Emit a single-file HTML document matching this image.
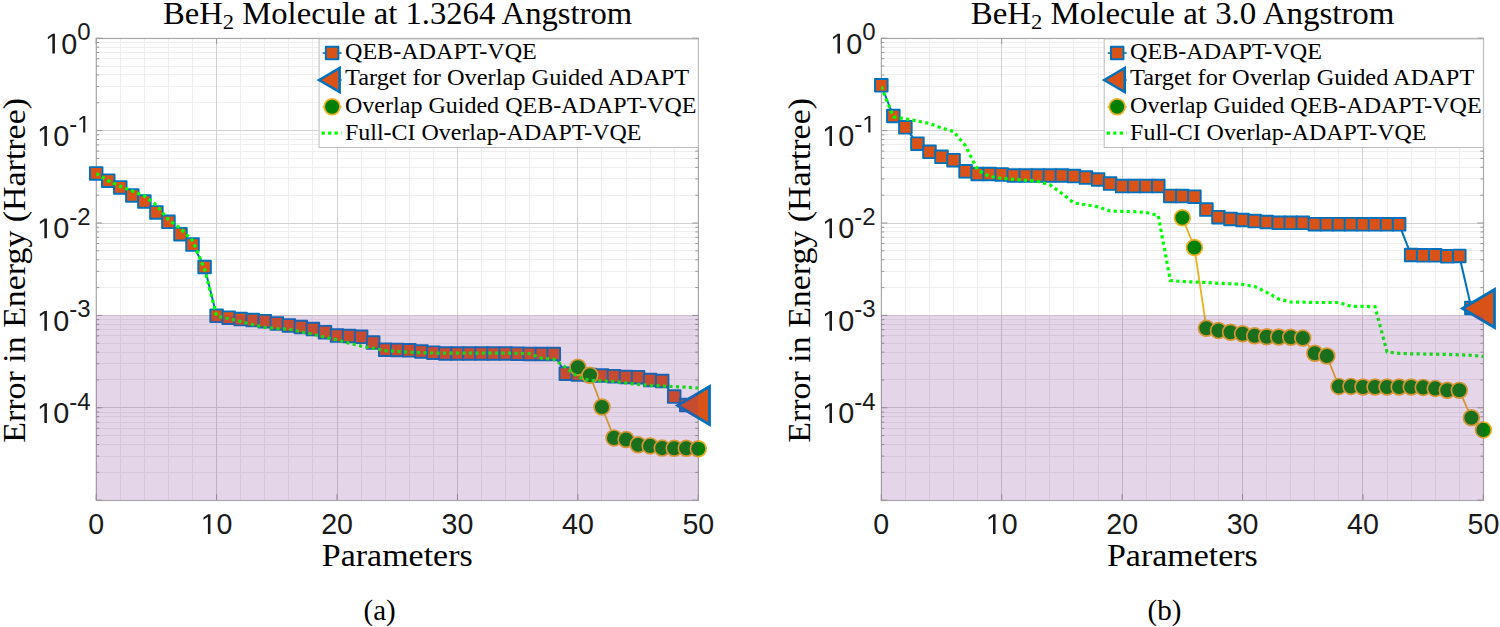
<!DOCTYPE html>
<html><head><meta charset="utf-8"><style>
html,body{margin:0;padding:0;background:#fff;width:1500px;height:627px;overflow:hidden}
svg{display:block}
.sf{font-family:"Liberation Serif",serif;fill:#000}
.tf{font-family:"Liberation Serif",serif;fill:#000}
.ss{font-family:"Liberation Sans",sans-serif;fill:#1a1a1a}
</style></head><body>
<svg width="1500" height="627" viewBox="0 0 1500 627">
<rect width="1500" height="627" fill="#fff"/>
<line x1="120.50" y1="38.2" x2="120.50" y2="500.2" stroke="#eeeeee" stroke-width="1"/>
<line x1="144.50" y1="38.2" x2="144.50" y2="500.2" stroke="#eeeeee" stroke-width="1"/>
<line x1="168.50" y1="38.2" x2="168.50" y2="500.2" stroke="#eeeeee" stroke-width="1"/>
<line x1="192.50" y1="38.2" x2="192.50" y2="500.2" stroke="#eeeeee" stroke-width="1"/>
<line x1="240.50" y1="38.2" x2="240.50" y2="500.2" stroke="#eeeeee" stroke-width="1"/>
<line x1="264.50" y1="38.2" x2="264.50" y2="500.2" stroke="#eeeeee" stroke-width="1"/>
<line x1="288.50" y1="38.2" x2="288.50" y2="500.2" stroke="#eeeeee" stroke-width="1"/>
<line x1="312.50" y1="38.2" x2="312.50" y2="500.2" stroke="#eeeeee" stroke-width="1"/>
<line x1="361.50" y1="38.2" x2="361.50" y2="500.2" stroke="#eeeeee" stroke-width="1"/>
<line x1="385.50" y1="38.2" x2="385.50" y2="500.2" stroke="#eeeeee" stroke-width="1"/>
<line x1="409.50" y1="38.2" x2="409.50" y2="500.2" stroke="#eeeeee" stroke-width="1"/>
<line x1="433.50" y1="38.2" x2="433.50" y2="500.2" stroke="#eeeeee" stroke-width="1"/>
<line x1="481.50" y1="38.2" x2="481.50" y2="500.2" stroke="#eeeeee" stroke-width="1"/>
<line x1="505.50" y1="38.2" x2="505.50" y2="500.2" stroke="#eeeeee" stroke-width="1"/>
<line x1="529.50" y1="38.2" x2="529.50" y2="500.2" stroke="#eeeeee" stroke-width="1"/>
<line x1="553.50" y1="38.2" x2="553.50" y2="500.2" stroke="#eeeeee" stroke-width="1"/>
<line x1="601.50" y1="38.2" x2="601.50" y2="500.2" stroke="#eeeeee" stroke-width="1"/>
<line x1="626.50" y1="38.2" x2="626.50" y2="500.2" stroke="#eeeeee" stroke-width="1"/>
<line x1="650.50" y1="38.2" x2="650.50" y2="500.2" stroke="#eeeeee" stroke-width="1"/>
<line x1="674.50" y1="38.2" x2="674.50" y2="500.2" stroke="#eeeeee" stroke-width="1"/>
<line x1="96.2" y1="102.50" x2="698.3" y2="102.50" stroke="#eeeeee" stroke-width="1"/>
<line x1="96.2" y1="86.50" x2="698.3" y2="86.50" stroke="#eeeeee" stroke-width="1"/>
<line x1="96.2" y1="74.50" x2="698.3" y2="74.50" stroke="#eeeeee" stroke-width="1"/>
<line x1="96.2" y1="66.50" x2="698.3" y2="66.50" stroke="#eeeeee" stroke-width="1"/>
<line x1="96.2" y1="58.50" x2="698.3" y2="58.50" stroke="#eeeeee" stroke-width="1"/>
<line x1="96.2" y1="52.50" x2="698.3" y2="52.50" stroke="#eeeeee" stroke-width="1"/>
<line x1="96.2" y1="47.50" x2="698.3" y2="47.50" stroke="#eeeeee" stroke-width="1"/>
<line x1="96.2" y1="42.50" x2="698.3" y2="42.50" stroke="#eeeeee" stroke-width="1"/>
<line x1="96.2" y1="195.50" x2="698.3" y2="195.50" stroke="#eeeeee" stroke-width="1"/>
<line x1="96.2" y1="178.50" x2="698.3" y2="178.50" stroke="#eeeeee" stroke-width="1"/>
<line x1="96.2" y1="167.50" x2="698.3" y2="167.50" stroke="#eeeeee" stroke-width="1"/>
<line x1="96.2" y1="158.50" x2="698.3" y2="158.50" stroke="#eeeeee" stroke-width="1"/>
<line x1="96.2" y1="151.50" x2="698.3" y2="151.50" stroke="#eeeeee" stroke-width="1"/>
<line x1="96.2" y1="144.50" x2="698.3" y2="144.50" stroke="#eeeeee" stroke-width="1"/>
<line x1="96.2" y1="139.50" x2="698.3" y2="139.50" stroke="#eeeeee" stroke-width="1"/>
<line x1="96.2" y1="134.50" x2="698.3" y2="134.50" stroke="#eeeeee" stroke-width="1"/>
<line x1="96.2" y1="287.50" x2="698.3" y2="287.50" stroke="#eeeeee" stroke-width="1"/>
<line x1="96.2" y1="271.50" x2="698.3" y2="271.50" stroke="#eeeeee" stroke-width="1"/>
<line x1="96.2" y1="259.50" x2="698.3" y2="259.50" stroke="#eeeeee" stroke-width="1"/>
<line x1="96.2" y1="250.50" x2="698.3" y2="250.50" stroke="#eeeeee" stroke-width="1"/>
<line x1="96.2" y1="243.50" x2="698.3" y2="243.50" stroke="#eeeeee" stroke-width="1"/>
<line x1="96.2" y1="237.50" x2="698.3" y2="237.50" stroke="#eeeeee" stroke-width="1"/>
<line x1="96.2" y1="231.50" x2="698.3" y2="231.50" stroke="#eeeeee" stroke-width="1"/>
<line x1="96.2" y1="227.50" x2="698.3" y2="227.50" stroke="#eeeeee" stroke-width="1"/>
<line x1="96.2" y1="379.50" x2="698.3" y2="379.50" stroke="#eeeeee" stroke-width="1"/>
<line x1="96.2" y1="363.50" x2="698.3" y2="363.50" stroke="#eeeeee" stroke-width="1"/>
<line x1="96.2" y1="352.50" x2="698.3" y2="352.50" stroke="#eeeeee" stroke-width="1"/>
<line x1="96.2" y1="343.50" x2="698.3" y2="343.50" stroke="#eeeeee" stroke-width="1"/>
<line x1="96.2" y1="335.50" x2="698.3" y2="335.50" stroke="#eeeeee" stroke-width="1"/>
<line x1="96.2" y1="329.50" x2="698.3" y2="329.50" stroke="#eeeeee" stroke-width="1"/>
<line x1="96.2" y1="324.50" x2="698.3" y2="324.50" stroke="#eeeeee" stroke-width="1"/>
<line x1="96.2" y1="319.50" x2="698.3" y2="319.50" stroke="#eeeeee" stroke-width="1"/>
<line x1="96.2" y1="472.50" x2="698.3" y2="472.50" stroke="#eeeeee" stroke-width="1"/>
<line x1="96.2" y1="456.50" x2="698.3" y2="456.50" stroke="#eeeeee" stroke-width="1"/>
<line x1="96.2" y1="444.50" x2="698.3" y2="444.50" stroke="#eeeeee" stroke-width="1"/>
<line x1="96.2" y1="435.50" x2="698.3" y2="435.50" stroke="#eeeeee" stroke-width="1"/>
<line x1="96.2" y1="428.50" x2="698.3" y2="428.50" stroke="#eeeeee" stroke-width="1"/>
<line x1="96.2" y1="422.50" x2="698.3" y2="422.50" stroke="#eeeeee" stroke-width="1"/>
<line x1="96.2" y1="416.50" x2="698.3" y2="416.50" stroke="#eeeeee" stroke-width="1"/>
<line x1="96.2" y1="412.50" x2="698.3" y2="412.50" stroke="#eeeeee" stroke-width="1"/>
<line x1="216.50" y1="38.2" x2="216.50" y2="500.2" stroke="#d2d2d2" stroke-width="1"/>
<line x1="337.50" y1="38.2" x2="337.50" y2="500.2" stroke="#d2d2d2" stroke-width="1"/>
<line x1="457.50" y1="38.2" x2="457.50" y2="500.2" stroke="#d2d2d2" stroke-width="1"/>
<line x1="577.50" y1="38.2" x2="577.50" y2="500.2" stroke="#d2d2d2" stroke-width="1"/>
<line x1="96.2" y1="130.50" x2="698.3" y2="130.50" stroke="#d2d2d2" stroke-width="1"/>
<line x1="96.2" y1="223.50" x2="698.3" y2="223.50" stroke="#d2d2d2" stroke-width="1"/>
<line x1="96.2" y1="315.50" x2="698.3" y2="315.50" stroke="#d2d2d2" stroke-width="1"/>
<line x1="96.2" y1="407.50" x2="698.3" y2="407.50" stroke="#d2d2d2" stroke-width="1"/>
<clipPath id="c0"><rect x="96.2" y="38.2" width="602.0999999999999" height="462.0"/></clipPath>
<rect x="96.30" y="38.45" width="602.10" height="462.05" fill="none" stroke="#a8a8a8" stroke-width="1.2"/>
<line x1="96.20" y1="500.2" x2="96.20" y2="494.2" stroke="#999" stroke-width="1"/>
<line x1="96.20" y1="38.2" x2="96.20" y2="44.2" stroke="#999" stroke-width="1"/>
<line x1="216.62" y1="500.2" x2="216.62" y2="494.2" stroke="#999" stroke-width="1"/>
<line x1="216.62" y1="38.2" x2="216.62" y2="44.2" stroke="#999" stroke-width="1"/>
<line x1="337.04" y1="500.2" x2="337.04" y2="494.2" stroke="#999" stroke-width="1"/>
<line x1="337.04" y1="38.2" x2="337.04" y2="44.2" stroke="#999" stroke-width="1"/>
<line x1="457.46" y1="500.2" x2="457.46" y2="494.2" stroke="#999" stroke-width="1"/>
<line x1="457.46" y1="38.2" x2="457.46" y2="44.2" stroke="#999" stroke-width="1"/>
<line x1="577.88" y1="500.2" x2="577.88" y2="494.2" stroke="#999" stroke-width="1"/>
<line x1="577.88" y1="38.2" x2="577.88" y2="44.2" stroke="#999" stroke-width="1"/>
<line x1="698.30" y1="500.2" x2="698.30" y2="494.2" stroke="#999" stroke-width="1"/>
<line x1="698.30" y1="38.2" x2="698.30" y2="44.2" stroke="#999" stroke-width="1"/>
<line x1="96.2" y1="38.20" x2="102.2" y2="38.20" stroke="#999" stroke-width="1"/>
<line x1="698.3" y1="38.20" x2="692.3" y2="38.20" stroke="#999" stroke-width="1"/>
<line x1="96.2" y1="102.78" x2="99.2" y2="102.78" stroke="#999" stroke-width="1"/>
<line x1="698.3" y1="102.78" x2="695.3" y2="102.78" stroke="#999" stroke-width="1"/>
<line x1="96.2" y1="86.51" x2="99.2" y2="86.51" stroke="#999" stroke-width="1"/>
<line x1="698.3" y1="86.51" x2="695.3" y2="86.51" stroke="#999" stroke-width="1"/>
<line x1="96.2" y1="74.97" x2="99.2" y2="74.97" stroke="#999" stroke-width="1"/>
<line x1="698.3" y1="74.97" x2="695.3" y2="74.97" stroke="#999" stroke-width="1"/>
<line x1="96.2" y1="66.02" x2="99.2" y2="66.02" stroke="#999" stroke-width="1"/>
<line x1="698.3" y1="66.02" x2="695.3" y2="66.02" stroke="#999" stroke-width="1"/>
<line x1="96.2" y1="58.70" x2="99.2" y2="58.70" stroke="#999" stroke-width="1"/>
<line x1="698.3" y1="58.70" x2="695.3" y2="58.70" stroke="#999" stroke-width="1"/>
<line x1="96.2" y1="52.51" x2="99.2" y2="52.51" stroke="#999" stroke-width="1"/>
<line x1="698.3" y1="52.51" x2="695.3" y2="52.51" stroke="#999" stroke-width="1"/>
<line x1="96.2" y1="47.15" x2="99.2" y2="47.15" stroke="#999" stroke-width="1"/>
<line x1="698.3" y1="47.15" x2="695.3" y2="47.15" stroke="#999" stroke-width="1"/>
<line x1="96.2" y1="42.43" x2="99.2" y2="42.43" stroke="#999" stroke-width="1"/>
<line x1="698.3" y1="42.43" x2="695.3" y2="42.43" stroke="#999" stroke-width="1"/>
<line x1="96.2" y1="130.60" x2="102.2" y2="130.60" stroke="#999" stroke-width="1"/>
<line x1="698.3" y1="130.60" x2="692.3" y2="130.60" stroke="#999" stroke-width="1"/>
<line x1="96.2" y1="195.18" x2="99.2" y2="195.18" stroke="#999" stroke-width="1"/>
<line x1="698.3" y1="195.18" x2="695.3" y2="195.18" stroke="#999" stroke-width="1"/>
<line x1="96.2" y1="178.91" x2="99.2" y2="178.91" stroke="#999" stroke-width="1"/>
<line x1="698.3" y1="178.91" x2="695.3" y2="178.91" stroke="#999" stroke-width="1"/>
<line x1="96.2" y1="167.37" x2="99.2" y2="167.37" stroke="#999" stroke-width="1"/>
<line x1="698.3" y1="167.37" x2="695.3" y2="167.37" stroke="#999" stroke-width="1"/>
<line x1="96.2" y1="158.42" x2="99.2" y2="158.42" stroke="#999" stroke-width="1"/>
<line x1="698.3" y1="158.42" x2="695.3" y2="158.42" stroke="#999" stroke-width="1"/>
<line x1="96.2" y1="151.10" x2="99.2" y2="151.10" stroke="#999" stroke-width="1"/>
<line x1="698.3" y1="151.10" x2="695.3" y2="151.10" stroke="#999" stroke-width="1"/>
<line x1="96.2" y1="144.91" x2="99.2" y2="144.91" stroke="#999" stroke-width="1"/>
<line x1="698.3" y1="144.91" x2="695.3" y2="144.91" stroke="#999" stroke-width="1"/>
<line x1="96.2" y1="139.55" x2="99.2" y2="139.55" stroke="#999" stroke-width="1"/>
<line x1="698.3" y1="139.55" x2="695.3" y2="139.55" stroke="#999" stroke-width="1"/>
<line x1="96.2" y1="134.83" x2="99.2" y2="134.83" stroke="#999" stroke-width="1"/>
<line x1="698.3" y1="134.83" x2="695.3" y2="134.83" stroke="#999" stroke-width="1"/>
<line x1="96.2" y1="223.00" x2="102.2" y2="223.00" stroke="#999" stroke-width="1"/>
<line x1="698.3" y1="223.00" x2="692.3" y2="223.00" stroke="#999" stroke-width="1"/>
<line x1="96.2" y1="287.58" x2="99.2" y2="287.58" stroke="#999" stroke-width="1"/>
<line x1="698.3" y1="287.58" x2="695.3" y2="287.58" stroke="#999" stroke-width="1"/>
<line x1="96.2" y1="271.31" x2="99.2" y2="271.31" stroke="#999" stroke-width="1"/>
<line x1="698.3" y1="271.31" x2="695.3" y2="271.31" stroke="#999" stroke-width="1"/>
<line x1="96.2" y1="259.77" x2="99.2" y2="259.77" stroke="#999" stroke-width="1"/>
<line x1="698.3" y1="259.77" x2="695.3" y2="259.77" stroke="#999" stroke-width="1"/>
<line x1="96.2" y1="250.82" x2="99.2" y2="250.82" stroke="#999" stroke-width="1"/>
<line x1="698.3" y1="250.82" x2="695.3" y2="250.82" stroke="#999" stroke-width="1"/>
<line x1="96.2" y1="243.50" x2="99.2" y2="243.50" stroke="#999" stroke-width="1"/>
<line x1="698.3" y1="243.50" x2="695.3" y2="243.50" stroke="#999" stroke-width="1"/>
<line x1="96.2" y1="237.31" x2="99.2" y2="237.31" stroke="#999" stroke-width="1"/>
<line x1="698.3" y1="237.31" x2="695.3" y2="237.31" stroke="#999" stroke-width="1"/>
<line x1="96.2" y1="231.95" x2="99.2" y2="231.95" stroke="#999" stroke-width="1"/>
<line x1="698.3" y1="231.95" x2="695.3" y2="231.95" stroke="#999" stroke-width="1"/>
<line x1="96.2" y1="227.23" x2="99.2" y2="227.23" stroke="#999" stroke-width="1"/>
<line x1="698.3" y1="227.23" x2="695.3" y2="227.23" stroke="#999" stroke-width="1"/>
<line x1="96.2" y1="315.40" x2="102.2" y2="315.40" stroke="#999" stroke-width="1"/>
<line x1="698.3" y1="315.40" x2="692.3" y2="315.40" stroke="#999" stroke-width="1"/>
<line x1="96.2" y1="379.98" x2="99.2" y2="379.98" stroke="#999" stroke-width="1"/>
<line x1="698.3" y1="379.98" x2="695.3" y2="379.98" stroke="#999" stroke-width="1"/>
<line x1="96.2" y1="363.71" x2="99.2" y2="363.71" stroke="#999" stroke-width="1"/>
<line x1="698.3" y1="363.71" x2="695.3" y2="363.71" stroke="#999" stroke-width="1"/>
<line x1="96.2" y1="352.17" x2="99.2" y2="352.17" stroke="#999" stroke-width="1"/>
<line x1="698.3" y1="352.17" x2="695.3" y2="352.17" stroke="#999" stroke-width="1"/>
<line x1="96.2" y1="343.22" x2="99.2" y2="343.22" stroke="#999" stroke-width="1"/>
<line x1="698.3" y1="343.22" x2="695.3" y2="343.22" stroke="#999" stroke-width="1"/>
<line x1="96.2" y1="335.90" x2="99.2" y2="335.90" stroke="#999" stroke-width="1"/>
<line x1="698.3" y1="335.90" x2="695.3" y2="335.90" stroke="#999" stroke-width="1"/>
<line x1="96.2" y1="329.71" x2="99.2" y2="329.71" stroke="#999" stroke-width="1"/>
<line x1="698.3" y1="329.71" x2="695.3" y2="329.71" stroke="#999" stroke-width="1"/>
<line x1="96.2" y1="324.35" x2="99.2" y2="324.35" stroke="#999" stroke-width="1"/>
<line x1="698.3" y1="324.35" x2="695.3" y2="324.35" stroke="#999" stroke-width="1"/>
<line x1="96.2" y1="319.63" x2="99.2" y2="319.63" stroke="#999" stroke-width="1"/>
<line x1="698.3" y1="319.63" x2="695.3" y2="319.63" stroke="#999" stroke-width="1"/>
<line x1="96.2" y1="407.80" x2="102.2" y2="407.80" stroke="#999" stroke-width="1"/>
<line x1="698.3" y1="407.80" x2="692.3" y2="407.80" stroke="#999" stroke-width="1"/>
<line x1="96.2" y1="472.38" x2="99.2" y2="472.38" stroke="#999" stroke-width="1"/>
<line x1="698.3" y1="472.38" x2="695.3" y2="472.38" stroke="#999" stroke-width="1"/>
<line x1="96.2" y1="456.11" x2="99.2" y2="456.11" stroke="#999" stroke-width="1"/>
<line x1="698.3" y1="456.11" x2="695.3" y2="456.11" stroke="#999" stroke-width="1"/>
<line x1="96.2" y1="444.57" x2="99.2" y2="444.57" stroke="#999" stroke-width="1"/>
<line x1="698.3" y1="444.57" x2="695.3" y2="444.57" stroke="#999" stroke-width="1"/>
<line x1="96.2" y1="435.62" x2="99.2" y2="435.62" stroke="#999" stroke-width="1"/>
<line x1="698.3" y1="435.62" x2="695.3" y2="435.62" stroke="#999" stroke-width="1"/>
<line x1="96.2" y1="428.30" x2="99.2" y2="428.30" stroke="#999" stroke-width="1"/>
<line x1="698.3" y1="428.30" x2="695.3" y2="428.30" stroke="#999" stroke-width="1"/>
<line x1="96.2" y1="422.11" x2="99.2" y2="422.11" stroke="#999" stroke-width="1"/>
<line x1="698.3" y1="422.11" x2="695.3" y2="422.11" stroke="#999" stroke-width="1"/>
<line x1="96.2" y1="416.75" x2="99.2" y2="416.75" stroke="#999" stroke-width="1"/>
<line x1="698.3" y1="416.75" x2="695.3" y2="416.75" stroke="#999" stroke-width="1"/>
<line x1="96.2" y1="412.03" x2="99.2" y2="412.03" stroke="#999" stroke-width="1"/>
<line x1="698.3" y1="412.03" x2="695.3" y2="412.03" stroke="#999" stroke-width="1"/>
<line x1="96.2" y1="500.20" x2="102.2" y2="500.20" stroke="#999" stroke-width="1"/>
<line x1="698.3" y1="500.20" x2="692.3" y2="500.20" stroke="#999" stroke-width="1"/>
<polyline points="96.20,173.40 108.24,180.70 120.28,187.40 132.33,195.50 144.37,201.50 156.41,212.40 168.45,221.80 180.49,234.20 192.54,244.60 204.58,267.00 216.62,315.80 228.66,317.70 240.70,319.10 252.75,320.10 264.79,321.20 276.83,323.40 288.87,325.40 300.91,327.00 312.96,329.10 325.00,332.20 337.04,335.60 349.08,336.00 361.12,336.80 373.17,342.60 385.21,349.70 397.25,349.90 409.29,350.30 421.33,351.50 433.38,352.70 445.42,353.50 457.46,353.50 469.50,353.50 481.54,353.50 493.59,353.50 505.63,353.50 517.67,353.70 529.71,353.90 541.75,354.00 553.80,354.00 565.84,373.70 577.88,374.40 589.92,375.00 601.96,375.60 614.01,376.20 626.05,377.00 638.09,377.20 650.13,380.00 662.17,381.00 674.22,396.60 686.26,405.00" fill="none" stroke="#0072BD" stroke-width="2"/>
<rect x="89.90" y="167.10" width="12.6" height="12.6" fill="#D95319" stroke="#0072BD" stroke-width="1.9" stroke-linejoin="round"/>
<rect x="101.94" y="174.40" width="12.6" height="12.6" fill="#D95319" stroke="#0072BD" stroke-width="1.9" stroke-linejoin="round"/>
<rect x="113.98" y="181.10" width="12.6" height="12.6" fill="#D95319" stroke="#0072BD" stroke-width="1.9" stroke-linejoin="round"/>
<rect x="126.03" y="189.20" width="12.6" height="12.6" fill="#D95319" stroke="#0072BD" stroke-width="1.9" stroke-linejoin="round"/>
<rect x="138.07" y="195.20" width="12.6" height="12.6" fill="#D95319" stroke="#0072BD" stroke-width="1.9" stroke-linejoin="round"/>
<rect x="150.11" y="206.10" width="12.6" height="12.6" fill="#D95319" stroke="#0072BD" stroke-width="1.9" stroke-linejoin="round"/>
<rect x="162.15" y="215.50" width="12.6" height="12.6" fill="#D95319" stroke="#0072BD" stroke-width="1.9" stroke-linejoin="round"/>
<rect x="174.19" y="227.90" width="12.6" height="12.6" fill="#D95319" stroke="#0072BD" stroke-width="1.9" stroke-linejoin="round"/>
<rect x="186.24" y="238.30" width="12.6" height="12.6" fill="#D95319" stroke="#0072BD" stroke-width="1.9" stroke-linejoin="round"/>
<rect x="198.28" y="260.70" width="12.6" height="12.6" fill="#D95319" stroke="#0072BD" stroke-width="1.9" stroke-linejoin="round"/>
<rect x="210.32" y="309.50" width="12.6" height="12.6" fill="#D95319" stroke="#0072BD" stroke-width="1.9" stroke-linejoin="round"/>
<rect x="222.36" y="311.40" width="12.6" height="12.6" fill="#D95319" stroke="#0072BD" stroke-width="1.9" stroke-linejoin="round"/>
<rect x="234.40" y="312.80" width="12.6" height="12.6" fill="#D95319" stroke="#0072BD" stroke-width="1.9" stroke-linejoin="round"/>
<rect x="246.45" y="313.80" width="12.6" height="12.6" fill="#D95319" stroke="#0072BD" stroke-width="1.9" stroke-linejoin="round"/>
<rect x="258.49" y="314.90" width="12.6" height="12.6" fill="#D95319" stroke="#0072BD" stroke-width="1.9" stroke-linejoin="round"/>
<rect x="270.53" y="317.10" width="12.6" height="12.6" fill="#D95319" stroke="#0072BD" stroke-width="1.9" stroke-linejoin="round"/>
<rect x="282.57" y="319.10" width="12.6" height="12.6" fill="#D95319" stroke="#0072BD" stroke-width="1.9" stroke-linejoin="round"/>
<rect x="294.61" y="320.70" width="12.6" height="12.6" fill="#D95319" stroke="#0072BD" stroke-width="1.9" stroke-linejoin="round"/>
<rect x="306.66" y="322.80" width="12.6" height="12.6" fill="#D95319" stroke="#0072BD" stroke-width="1.9" stroke-linejoin="round"/>
<rect x="318.70" y="325.90" width="12.6" height="12.6" fill="#D95319" stroke="#0072BD" stroke-width="1.9" stroke-linejoin="round"/>
<rect x="330.74" y="329.30" width="12.6" height="12.6" fill="#D95319" stroke="#0072BD" stroke-width="1.9" stroke-linejoin="round"/>
<rect x="342.78" y="329.70" width="12.6" height="12.6" fill="#D95319" stroke="#0072BD" stroke-width="1.9" stroke-linejoin="round"/>
<rect x="354.82" y="330.50" width="12.6" height="12.6" fill="#D95319" stroke="#0072BD" stroke-width="1.9" stroke-linejoin="round"/>
<rect x="366.87" y="336.30" width="12.6" height="12.6" fill="#D95319" stroke="#0072BD" stroke-width="1.9" stroke-linejoin="round"/>
<rect x="378.91" y="343.40" width="12.6" height="12.6" fill="#D95319" stroke="#0072BD" stroke-width="1.9" stroke-linejoin="round"/>
<rect x="390.95" y="343.60" width="12.6" height="12.6" fill="#D95319" stroke="#0072BD" stroke-width="1.9" stroke-linejoin="round"/>
<rect x="402.99" y="344.00" width="12.6" height="12.6" fill="#D95319" stroke="#0072BD" stroke-width="1.9" stroke-linejoin="round"/>
<rect x="415.03" y="345.20" width="12.6" height="12.6" fill="#D95319" stroke="#0072BD" stroke-width="1.9" stroke-linejoin="round"/>
<rect x="427.08" y="346.40" width="12.6" height="12.6" fill="#D95319" stroke="#0072BD" stroke-width="1.9" stroke-linejoin="round"/>
<rect x="439.12" y="347.20" width="12.6" height="12.6" fill="#D95319" stroke="#0072BD" stroke-width="1.9" stroke-linejoin="round"/>
<rect x="451.16" y="347.20" width="12.6" height="12.6" fill="#D95319" stroke="#0072BD" stroke-width="1.9" stroke-linejoin="round"/>
<rect x="463.20" y="347.20" width="12.6" height="12.6" fill="#D95319" stroke="#0072BD" stroke-width="1.9" stroke-linejoin="round"/>
<rect x="475.24" y="347.20" width="12.6" height="12.6" fill="#D95319" stroke="#0072BD" stroke-width="1.9" stroke-linejoin="round"/>
<rect x="487.29" y="347.20" width="12.6" height="12.6" fill="#D95319" stroke="#0072BD" stroke-width="1.9" stroke-linejoin="round"/>
<rect x="499.33" y="347.20" width="12.6" height="12.6" fill="#D95319" stroke="#0072BD" stroke-width="1.9" stroke-linejoin="round"/>
<rect x="511.37" y="347.40" width="12.6" height="12.6" fill="#D95319" stroke="#0072BD" stroke-width="1.9" stroke-linejoin="round"/>
<rect x="523.41" y="347.60" width="12.6" height="12.6" fill="#D95319" stroke="#0072BD" stroke-width="1.9" stroke-linejoin="round"/>
<rect x="535.45" y="347.70" width="12.6" height="12.6" fill="#D95319" stroke="#0072BD" stroke-width="1.9" stroke-linejoin="round"/>
<rect x="547.50" y="347.70" width="12.6" height="12.6" fill="#D95319" stroke="#0072BD" stroke-width="1.9" stroke-linejoin="round"/>
<rect x="559.54" y="367.40" width="12.6" height="12.6" fill="#D95319" stroke="#0072BD" stroke-width="1.9" stroke-linejoin="round"/>
<rect x="571.58" y="368.10" width="12.6" height="12.6" fill="#D95319" stroke="#0072BD" stroke-width="1.9" stroke-linejoin="round"/>
<rect x="583.62" y="368.70" width="12.6" height="12.6" fill="#D95319" stroke="#0072BD" stroke-width="1.9" stroke-linejoin="round"/>
<rect x="595.66" y="369.30" width="12.6" height="12.6" fill="#D95319" stroke="#0072BD" stroke-width="1.9" stroke-linejoin="round"/>
<rect x="607.71" y="369.90" width="12.6" height="12.6" fill="#D95319" stroke="#0072BD" stroke-width="1.9" stroke-linejoin="round"/>
<rect x="619.75" y="370.70" width="12.6" height="12.6" fill="#D95319" stroke="#0072BD" stroke-width="1.9" stroke-linejoin="round"/>
<rect x="631.79" y="370.90" width="12.6" height="12.6" fill="#D95319" stroke="#0072BD" stroke-width="1.9" stroke-linejoin="round"/>
<rect x="643.83" y="373.70" width="12.6" height="12.6" fill="#D95319" stroke="#0072BD" stroke-width="1.9" stroke-linejoin="round"/>
<rect x="655.87" y="374.70" width="12.6" height="12.6" fill="#D95319" stroke="#0072BD" stroke-width="1.9" stroke-linejoin="round"/>
<rect x="667.92" y="390.30" width="12.6" height="12.6" fill="#D95319" stroke="#0072BD" stroke-width="1.9" stroke-linejoin="round"/>
<rect x="679.96" y="398.70" width="12.6" height="12.6" fill="#D95319" stroke="#0072BD" stroke-width="1.9" stroke-linejoin="round"/>
<path d="M677.5,405.5 L709.5,386.5 L709.5,424.5 Z" fill="#D95319" stroke="#0072BD" stroke-width="2.8" stroke-linejoin="miter"/>
<polyline points="577.88,367.20 589.92,375.20 601.96,407.00 614.01,437.90 626.05,439.50 638.09,444.70 650.13,445.90 662.17,448.10 674.22,448.30 686.26,448.30 698.30,448.70" fill="none" stroke="#EDB120" stroke-width="1.8"/>
<circle cx="577.88" cy="367.20" r="7.9" fill="#008000" stroke="#EDB120" stroke-width="1.7"/>
<circle cx="589.92" cy="375.20" r="7.9" fill="#008000" stroke="#EDB120" stroke-width="1.7"/>
<circle cx="601.96" cy="407.00" r="7.9" fill="#008000" stroke="#EDB120" stroke-width="1.7"/>
<circle cx="614.01" cy="437.90" r="7.9" fill="#008000" stroke="#EDB120" stroke-width="1.7"/>
<circle cx="626.05" cy="439.50" r="7.9" fill="#008000" stroke="#EDB120" stroke-width="1.7"/>
<circle cx="638.09" cy="444.70" r="7.9" fill="#008000" stroke="#EDB120" stroke-width="1.7"/>
<circle cx="650.13" cy="445.90" r="7.9" fill="#008000" stroke="#EDB120" stroke-width="1.7"/>
<circle cx="662.17" cy="448.10" r="7.9" fill="#008000" stroke="#EDB120" stroke-width="1.7"/>
<circle cx="674.22" cy="448.30" r="7.9" fill="#008000" stroke="#EDB120" stroke-width="1.7"/>
<circle cx="686.26" cy="448.30" r="7.9" fill="#008000" stroke="#EDB120" stroke-width="1.7"/>
<circle cx="698.30" cy="448.70" r="7.9" fill="#008000" stroke="#EDB120" stroke-width="1.7"/>
<polyline points="96.20,173.50 108.24,180.80 120.28,186.30 132.33,191.00 144.37,196.00 156.41,205.00 168.45,219.70 180.49,228.50 192.54,240.50 204.58,269.00 216.62,316.20 228.66,318.70 240.70,321.50 252.75,324.60 264.79,327.30 276.83,328.60 288.87,329.20 300.91,331.90 312.96,334.30 325.00,337.20 337.04,339.90 349.08,343.10 361.12,346.10 373.17,348.20 385.21,350.70 397.25,351.30 409.29,352.20 421.33,352.70 433.38,353.00 445.42,353.10 457.46,353.20 469.50,353.20 481.54,353.20 493.59,353.20 505.63,353.20 517.67,353.30 529.71,353.70 541.75,358.30 553.80,359.30 565.84,367.50 577.88,377.00 589.92,380.50 601.96,381.00 614.01,381.50 626.05,383.00 638.09,384.50 650.13,385.30 662.17,386.00 674.22,386.60 686.26,387.20 698.30,388.00" fill="none" stroke="#00FF00" stroke-width="3.2" stroke-dasharray="3.2 3.3" clip-path="url(#c0)"/>
<rect x="96.2" y="315.40" width="602.10" height="184.50" fill="rgb(126,47,142)" fill-opacity="0.2"/>
<rect x="319.10" y="39.0" width="379.20" height="108.5" fill="#fff" stroke="#bdbdbd" stroke-width="1"/>
<line x1="322.60" y1="53.0" x2="341.60" y2="53.0" stroke="#0072BD" stroke-width="1.6"/>
<rect x="325.80" y="46.7" width="12.6" height="12.6" fill="#D95319" stroke="#0072BD" stroke-width="1.9" stroke-linejoin="round"/>
<line x1="322.60" y1="80.0" x2="341.60" y2="80.0" stroke="#0072BD" stroke-width="1.6"/>
<path d="M319.10,80.0 L339.60,68.0 L339.60,92.0 Z" fill="#D95319" stroke="#0072BD" stroke-width="2.6"/>
<line x1="322.60" y1="106.8" x2="341.60" y2="106.8" stroke="#EDB120" stroke-width="1.6"/>
<circle cx="332.10" cy="106.8" r="7.9" fill="#008000" stroke="#EDB120" stroke-width="1.7"/>
<line x1="321.60" y1="133.2" x2="341.60" y2="133.2" stroke="#00FF00" stroke-width="3.2" stroke-dasharray="3.2 3.3"/>
<text x="345.00" y="58.6" class="sf" font-size="22.4" textLength="191.8" lengthAdjust="spacingAndGlyphs">QEB-ADAPT-VQE</text>
<text x="345.00" y="85.2" class="sf" font-size="22.4" textLength="344.2" lengthAdjust="spacingAndGlyphs">Target for Overlap Guided ADAPT</text>
<text x="345.00" y="112.7" class="sf" font-size="22.4" textLength="351.5" lengthAdjust="spacingAndGlyphs">Overlap Guided QEB-ADAPT-VQE</text>
<text x="345.00" y="139.5" class="sf" font-size="22.4" textLength="296.4" lengthAdjust="spacingAndGlyphs">Full-CI Overlap-ADAPT-VQE</text>
<text x="163.00" y="24" class="sf" font-size="32" textLength="469.2" lengthAdjust="spacingAndGlyphs">BeH<tspan font-size="22" dy="5">2</tspan><tspan dy="-5"> Molecule at 1.3264 Angstrom</tspan></text>
<text x="88.25" y="533.90" class="ss" font-size="28.6">0</text>
<path d="M515,0L515,1237L197,1010L197,1180L530,1409L696,1409L696,0Z" transform="translate(200.71,533.90) scale(0.01396,-0.01396)" fill="#1a1a1a"/><text x="216.62" y="533.90" class="ss" font-size="28.6">0</text>
<text x="321.13" y="533.90" class="ss" font-size="28.6">2</text><text x="337.04" y="533.90" class="ss" font-size="28.6">0</text>
<text x="441.55" y="533.90" class="ss" font-size="28.6">3</text><text x="457.46" y="533.90" class="ss" font-size="28.6">0</text>
<text x="561.97" y="533.90" class="ss" font-size="28.6">4</text><text x="577.88" y="533.90" class="ss" font-size="28.6">0</text>
<text x="682.39" y="533.90" class="ss" font-size="28.6">5</text><text x="698.30" y="533.90" class="ss" font-size="28.6">0</text>
<path d="M515,0L515,1237L197,1010L197,1180L530,1409L696,1409L696,0Z" transform="translate(45.12,53.50) scale(0.01406,-0.01406)" fill="#1a1a1a"/><text x="61.14" y="53.50" class="ss" font-size="28.8">0</text><text x="77.15" y="40.00" class="ss" font-size="24">0</text>
<path d="M515,0L515,1237L197,1010L197,1180L530,1409L696,1409L696,0Z" transform="translate(37.13,145.90) scale(0.01406,-0.01406)" fill="#1a1a1a"/><text x="53.14" y="145.90" class="ss" font-size="28.8">0</text><text x="69.16" y="132.40" class="ss" font-size="24">-</text><path d="M515,0L515,1237L197,1010L197,1180L530,1409L696,1409L696,0Z" transform="translate(77.15,132.40) scale(0.01172,-0.01172)" fill="#1a1a1a"/>
<path d="M515,0L515,1237L197,1010L197,1180L530,1409L696,1409L696,0Z" transform="translate(37.13,238.30) scale(0.01406,-0.01406)" fill="#1a1a1a"/><text x="53.14" y="238.30" class="ss" font-size="28.8">0</text><text x="69.16" y="224.80" class="ss" font-size="24">-</text><text x="77.15" y="224.80" class="ss" font-size="24">2</text>
<path d="M515,0L515,1237L197,1010L197,1180L530,1409L696,1409L696,0Z" transform="translate(37.13,330.70) scale(0.01406,-0.01406)" fill="#1a1a1a"/><text x="53.14" y="330.70" class="ss" font-size="28.8">0</text><text x="69.16" y="317.20" class="ss" font-size="24">-</text><text x="77.15" y="317.20" class="ss" font-size="24">3</text>
<path d="M515,0L515,1237L197,1010L197,1180L530,1409L696,1409L696,0Z" transform="translate(37.13,423.10) scale(0.01406,-0.01406)" fill="#1a1a1a"/><text x="53.14" y="423.10" class="ss" font-size="28.8">0</text><text x="69.16" y="409.60" class="ss" font-size="24">-</text><text x="77.15" y="409.60" class="ss" font-size="24">4</text>
<text x="397.25" y="566.2" class="sf" font-size="32" text-anchor="middle" textLength="150.8" lengthAdjust="spacingAndGlyphs">Parameters</text>
<text transform="translate(24.60,270.35) rotate(-90)" x="0" y="0" class="sf" font-size="31.6" text-anchor="middle" textLength="344.6" lengthAdjust="spacingAndGlyphs">Error in Energy (Hartree)</text>
<line x1="905.50" y1="38.2" x2="905.50" y2="500.2" stroke="#eeeeee" stroke-width="1"/>
<line x1="929.50" y1="38.2" x2="929.50" y2="500.2" stroke="#eeeeee" stroke-width="1"/>
<line x1="953.50" y1="38.2" x2="953.50" y2="500.2" stroke="#eeeeee" stroke-width="1"/>
<line x1="977.50" y1="38.2" x2="977.50" y2="500.2" stroke="#eeeeee" stroke-width="1"/>
<line x1="1025.50" y1="38.2" x2="1025.50" y2="500.2" stroke="#eeeeee" stroke-width="1"/>
<line x1="1049.50" y1="38.2" x2="1049.50" y2="500.2" stroke="#eeeeee" stroke-width="1"/>
<line x1="1073.50" y1="38.2" x2="1073.50" y2="500.2" stroke="#eeeeee" stroke-width="1"/>
<line x1="1098.50" y1="38.2" x2="1098.50" y2="500.2" stroke="#eeeeee" stroke-width="1"/>
<line x1="1146.50" y1="38.2" x2="1146.50" y2="500.2" stroke="#eeeeee" stroke-width="1"/>
<line x1="1170.50" y1="38.2" x2="1170.50" y2="500.2" stroke="#eeeeee" stroke-width="1"/>
<line x1="1194.50" y1="38.2" x2="1194.50" y2="500.2" stroke="#eeeeee" stroke-width="1"/>
<line x1="1218.50" y1="38.2" x2="1218.50" y2="500.2" stroke="#eeeeee" stroke-width="1"/>
<line x1="1266.50" y1="38.2" x2="1266.50" y2="500.2" stroke="#eeeeee" stroke-width="1"/>
<line x1="1290.50" y1="38.2" x2="1290.50" y2="500.2" stroke="#eeeeee" stroke-width="1"/>
<line x1="1314.50" y1="38.2" x2="1314.50" y2="500.2" stroke="#eeeeee" stroke-width="1"/>
<line x1="1338.50" y1="38.2" x2="1338.50" y2="500.2" stroke="#eeeeee" stroke-width="1"/>
<line x1="1387.50" y1="38.2" x2="1387.50" y2="500.2" stroke="#eeeeee" stroke-width="1"/>
<line x1="1411.50" y1="38.2" x2="1411.50" y2="500.2" stroke="#eeeeee" stroke-width="1"/>
<line x1="1435.50" y1="38.2" x2="1435.50" y2="500.2" stroke="#eeeeee" stroke-width="1"/>
<line x1="1459.50" y1="38.2" x2="1459.50" y2="500.2" stroke="#eeeeee" stroke-width="1"/>
<line x1="881.3000000000001" y1="102.50" x2="1483.4" y2="102.50" stroke="#eeeeee" stroke-width="1"/>
<line x1="881.3000000000001" y1="86.50" x2="1483.4" y2="86.50" stroke="#eeeeee" stroke-width="1"/>
<line x1="881.3000000000001" y1="74.50" x2="1483.4" y2="74.50" stroke="#eeeeee" stroke-width="1"/>
<line x1="881.3000000000001" y1="66.50" x2="1483.4" y2="66.50" stroke="#eeeeee" stroke-width="1"/>
<line x1="881.3000000000001" y1="58.50" x2="1483.4" y2="58.50" stroke="#eeeeee" stroke-width="1"/>
<line x1="881.3000000000001" y1="52.50" x2="1483.4" y2="52.50" stroke="#eeeeee" stroke-width="1"/>
<line x1="881.3000000000001" y1="47.50" x2="1483.4" y2="47.50" stroke="#eeeeee" stroke-width="1"/>
<line x1="881.3000000000001" y1="42.50" x2="1483.4" y2="42.50" stroke="#eeeeee" stroke-width="1"/>
<line x1="881.3000000000001" y1="195.50" x2="1483.4" y2="195.50" stroke="#eeeeee" stroke-width="1"/>
<line x1="881.3000000000001" y1="178.50" x2="1483.4" y2="178.50" stroke="#eeeeee" stroke-width="1"/>
<line x1="881.3000000000001" y1="167.50" x2="1483.4" y2="167.50" stroke="#eeeeee" stroke-width="1"/>
<line x1="881.3000000000001" y1="158.50" x2="1483.4" y2="158.50" stroke="#eeeeee" stroke-width="1"/>
<line x1="881.3000000000001" y1="151.50" x2="1483.4" y2="151.50" stroke="#eeeeee" stroke-width="1"/>
<line x1="881.3000000000001" y1="144.50" x2="1483.4" y2="144.50" stroke="#eeeeee" stroke-width="1"/>
<line x1="881.3000000000001" y1="139.50" x2="1483.4" y2="139.50" stroke="#eeeeee" stroke-width="1"/>
<line x1="881.3000000000001" y1="134.50" x2="1483.4" y2="134.50" stroke="#eeeeee" stroke-width="1"/>
<line x1="881.3000000000001" y1="287.50" x2="1483.4" y2="287.50" stroke="#eeeeee" stroke-width="1"/>
<line x1="881.3000000000001" y1="271.50" x2="1483.4" y2="271.50" stroke="#eeeeee" stroke-width="1"/>
<line x1="881.3000000000001" y1="259.50" x2="1483.4" y2="259.50" stroke="#eeeeee" stroke-width="1"/>
<line x1="881.3000000000001" y1="250.50" x2="1483.4" y2="250.50" stroke="#eeeeee" stroke-width="1"/>
<line x1="881.3000000000001" y1="243.50" x2="1483.4" y2="243.50" stroke="#eeeeee" stroke-width="1"/>
<line x1="881.3000000000001" y1="237.50" x2="1483.4" y2="237.50" stroke="#eeeeee" stroke-width="1"/>
<line x1="881.3000000000001" y1="231.50" x2="1483.4" y2="231.50" stroke="#eeeeee" stroke-width="1"/>
<line x1="881.3000000000001" y1="227.50" x2="1483.4" y2="227.50" stroke="#eeeeee" stroke-width="1"/>
<line x1="881.3000000000001" y1="379.50" x2="1483.4" y2="379.50" stroke="#eeeeee" stroke-width="1"/>
<line x1="881.3000000000001" y1="363.50" x2="1483.4" y2="363.50" stroke="#eeeeee" stroke-width="1"/>
<line x1="881.3000000000001" y1="352.50" x2="1483.4" y2="352.50" stroke="#eeeeee" stroke-width="1"/>
<line x1="881.3000000000001" y1="343.50" x2="1483.4" y2="343.50" stroke="#eeeeee" stroke-width="1"/>
<line x1="881.3000000000001" y1="335.50" x2="1483.4" y2="335.50" stroke="#eeeeee" stroke-width="1"/>
<line x1="881.3000000000001" y1="329.50" x2="1483.4" y2="329.50" stroke="#eeeeee" stroke-width="1"/>
<line x1="881.3000000000001" y1="324.50" x2="1483.4" y2="324.50" stroke="#eeeeee" stroke-width="1"/>
<line x1="881.3000000000001" y1="319.50" x2="1483.4" y2="319.50" stroke="#eeeeee" stroke-width="1"/>
<line x1="881.3000000000001" y1="472.50" x2="1483.4" y2="472.50" stroke="#eeeeee" stroke-width="1"/>
<line x1="881.3000000000001" y1="456.50" x2="1483.4" y2="456.50" stroke="#eeeeee" stroke-width="1"/>
<line x1="881.3000000000001" y1="444.50" x2="1483.4" y2="444.50" stroke="#eeeeee" stroke-width="1"/>
<line x1="881.3000000000001" y1="435.50" x2="1483.4" y2="435.50" stroke="#eeeeee" stroke-width="1"/>
<line x1="881.3000000000001" y1="428.50" x2="1483.4" y2="428.50" stroke="#eeeeee" stroke-width="1"/>
<line x1="881.3000000000001" y1="422.50" x2="1483.4" y2="422.50" stroke="#eeeeee" stroke-width="1"/>
<line x1="881.3000000000001" y1="416.50" x2="1483.4" y2="416.50" stroke="#eeeeee" stroke-width="1"/>
<line x1="881.3000000000001" y1="412.50" x2="1483.4" y2="412.50" stroke="#eeeeee" stroke-width="1"/>
<line x1="1001.50" y1="38.2" x2="1001.50" y2="500.2" stroke="#d2d2d2" stroke-width="1"/>
<line x1="1122.50" y1="38.2" x2="1122.50" y2="500.2" stroke="#d2d2d2" stroke-width="1"/>
<line x1="1242.50" y1="38.2" x2="1242.50" y2="500.2" stroke="#d2d2d2" stroke-width="1"/>
<line x1="1362.50" y1="38.2" x2="1362.50" y2="500.2" stroke="#d2d2d2" stroke-width="1"/>
<line x1="881.3000000000001" y1="130.50" x2="1483.4" y2="130.50" stroke="#d2d2d2" stroke-width="1"/>
<line x1="881.3000000000001" y1="223.50" x2="1483.4" y2="223.50" stroke="#d2d2d2" stroke-width="1"/>
<line x1="881.3000000000001" y1="315.50" x2="1483.4" y2="315.50" stroke="#d2d2d2" stroke-width="1"/>
<line x1="881.3000000000001" y1="407.50" x2="1483.4" y2="407.50" stroke="#d2d2d2" stroke-width="1"/>
<clipPath id="c785"><rect x="881.3000000000001" y="38.2" width="602.1" height="462.0"/></clipPath>
<rect x="881.40" y="38.45" width="602.10" height="462.05" fill="none" stroke="#a8a8a8" stroke-width="1.2"/>
<line x1="881.30" y1="500.2" x2="881.30" y2="494.2" stroke="#999" stroke-width="1"/>
<line x1="881.30" y1="38.2" x2="881.30" y2="44.2" stroke="#999" stroke-width="1"/>
<line x1="1001.72" y1="500.2" x2="1001.72" y2="494.2" stroke="#999" stroke-width="1"/>
<line x1="1001.72" y1="38.2" x2="1001.72" y2="44.2" stroke="#999" stroke-width="1"/>
<line x1="1122.14" y1="500.2" x2="1122.14" y2="494.2" stroke="#999" stroke-width="1"/>
<line x1="1122.14" y1="38.2" x2="1122.14" y2="44.2" stroke="#999" stroke-width="1"/>
<line x1="1242.56" y1="500.2" x2="1242.56" y2="494.2" stroke="#999" stroke-width="1"/>
<line x1="1242.56" y1="38.2" x2="1242.56" y2="44.2" stroke="#999" stroke-width="1"/>
<line x1="1362.98" y1="500.2" x2="1362.98" y2="494.2" stroke="#999" stroke-width="1"/>
<line x1="1362.98" y1="38.2" x2="1362.98" y2="44.2" stroke="#999" stroke-width="1"/>
<line x1="1483.40" y1="500.2" x2="1483.40" y2="494.2" stroke="#999" stroke-width="1"/>
<line x1="1483.40" y1="38.2" x2="1483.40" y2="44.2" stroke="#999" stroke-width="1"/>
<line x1="881.3000000000001" y1="38.20" x2="887.3000000000001" y2="38.20" stroke="#999" stroke-width="1"/>
<line x1="1483.4" y1="38.20" x2="1477.4" y2="38.20" stroke="#999" stroke-width="1"/>
<line x1="881.3000000000001" y1="102.78" x2="884.3000000000001" y2="102.78" stroke="#999" stroke-width="1"/>
<line x1="1483.4" y1="102.78" x2="1480.4" y2="102.78" stroke="#999" stroke-width="1"/>
<line x1="881.3000000000001" y1="86.51" x2="884.3000000000001" y2="86.51" stroke="#999" stroke-width="1"/>
<line x1="1483.4" y1="86.51" x2="1480.4" y2="86.51" stroke="#999" stroke-width="1"/>
<line x1="881.3000000000001" y1="74.97" x2="884.3000000000001" y2="74.97" stroke="#999" stroke-width="1"/>
<line x1="1483.4" y1="74.97" x2="1480.4" y2="74.97" stroke="#999" stroke-width="1"/>
<line x1="881.3000000000001" y1="66.02" x2="884.3000000000001" y2="66.02" stroke="#999" stroke-width="1"/>
<line x1="1483.4" y1="66.02" x2="1480.4" y2="66.02" stroke="#999" stroke-width="1"/>
<line x1="881.3000000000001" y1="58.70" x2="884.3000000000001" y2="58.70" stroke="#999" stroke-width="1"/>
<line x1="1483.4" y1="58.70" x2="1480.4" y2="58.70" stroke="#999" stroke-width="1"/>
<line x1="881.3000000000001" y1="52.51" x2="884.3000000000001" y2="52.51" stroke="#999" stroke-width="1"/>
<line x1="1483.4" y1="52.51" x2="1480.4" y2="52.51" stroke="#999" stroke-width="1"/>
<line x1="881.3000000000001" y1="47.15" x2="884.3000000000001" y2="47.15" stroke="#999" stroke-width="1"/>
<line x1="1483.4" y1="47.15" x2="1480.4" y2="47.15" stroke="#999" stroke-width="1"/>
<line x1="881.3000000000001" y1="42.43" x2="884.3000000000001" y2="42.43" stroke="#999" stroke-width="1"/>
<line x1="1483.4" y1="42.43" x2="1480.4" y2="42.43" stroke="#999" stroke-width="1"/>
<line x1="881.3000000000001" y1="130.60" x2="887.3000000000001" y2="130.60" stroke="#999" stroke-width="1"/>
<line x1="1483.4" y1="130.60" x2="1477.4" y2="130.60" stroke="#999" stroke-width="1"/>
<line x1="881.3000000000001" y1="195.18" x2="884.3000000000001" y2="195.18" stroke="#999" stroke-width="1"/>
<line x1="1483.4" y1="195.18" x2="1480.4" y2="195.18" stroke="#999" stroke-width="1"/>
<line x1="881.3000000000001" y1="178.91" x2="884.3000000000001" y2="178.91" stroke="#999" stroke-width="1"/>
<line x1="1483.4" y1="178.91" x2="1480.4" y2="178.91" stroke="#999" stroke-width="1"/>
<line x1="881.3000000000001" y1="167.37" x2="884.3000000000001" y2="167.37" stroke="#999" stroke-width="1"/>
<line x1="1483.4" y1="167.37" x2="1480.4" y2="167.37" stroke="#999" stroke-width="1"/>
<line x1="881.3000000000001" y1="158.42" x2="884.3000000000001" y2="158.42" stroke="#999" stroke-width="1"/>
<line x1="1483.4" y1="158.42" x2="1480.4" y2="158.42" stroke="#999" stroke-width="1"/>
<line x1="881.3000000000001" y1="151.10" x2="884.3000000000001" y2="151.10" stroke="#999" stroke-width="1"/>
<line x1="1483.4" y1="151.10" x2="1480.4" y2="151.10" stroke="#999" stroke-width="1"/>
<line x1="881.3000000000001" y1="144.91" x2="884.3000000000001" y2="144.91" stroke="#999" stroke-width="1"/>
<line x1="1483.4" y1="144.91" x2="1480.4" y2="144.91" stroke="#999" stroke-width="1"/>
<line x1="881.3000000000001" y1="139.55" x2="884.3000000000001" y2="139.55" stroke="#999" stroke-width="1"/>
<line x1="1483.4" y1="139.55" x2="1480.4" y2="139.55" stroke="#999" stroke-width="1"/>
<line x1="881.3000000000001" y1="134.83" x2="884.3000000000001" y2="134.83" stroke="#999" stroke-width="1"/>
<line x1="1483.4" y1="134.83" x2="1480.4" y2="134.83" stroke="#999" stroke-width="1"/>
<line x1="881.3000000000001" y1="223.00" x2="887.3000000000001" y2="223.00" stroke="#999" stroke-width="1"/>
<line x1="1483.4" y1="223.00" x2="1477.4" y2="223.00" stroke="#999" stroke-width="1"/>
<line x1="881.3000000000001" y1="287.58" x2="884.3000000000001" y2="287.58" stroke="#999" stroke-width="1"/>
<line x1="1483.4" y1="287.58" x2="1480.4" y2="287.58" stroke="#999" stroke-width="1"/>
<line x1="881.3000000000001" y1="271.31" x2="884.3000000000001" y2="271.31" stroke="#999" stroke-width="1"/>
<line x1="1483.4" y1="271.31" x2="1480.4" y2="271.31" stroke="#999" stroke-width="1"/>
<line x1="881.3000000000001" y1="259.77" x2="884.3000000000001" y2="259.77" stroke="#999" stroke-width="1"/>
<line x1="1483.4" y1="259.77" x2="1480.4" y2="259.77" stroke="#999" stroke-width="1"/>
<line x1="881.3000000000001" y1="250.82" x2="884.3000000000001" y2="250.82" stroke="#999" stroke-width="1"/>
<line x1="1483.4" y1="250.82" x2="1480.4" y2="250.82" stroke="#999" stroke-width="1"/>
<line x1="881.3000000000001" y1="243.50" x2="884.3000000000001" y2="243.50" stroke="#999" stroke-width="1"/>
<line x1="1483.4" y1="243.50" x2="1480.4" y2="243.50" stroke="#999" stroke-width="1"/>
<line x1="881.3000000000001" y1="237.31" x2="884.3000000000001" y2="237.31" stroke="#999" stroke-width="1"/>
<line x1="1483.4" y1="237.31" x2="1480.4" y2="237.31" stroke="#999" stroke-width="1"/>
<line x1="881.3000000000001" y1="231.95" x2="884.3000000000001" y2="231.95" stroke="#999" stroke-width="1"/>
<line x1="1483.4" y1="231.95" x2="1480.4" y2="231.95" stroke="#999" stroke-width="1"/>
<line x1="881.3000000000001" y1="227.23" x2="884.3000000000001" y2="227.23" stroke="#999" stroke-width="1"/>
<line x1="1483.4" y1="227.23" x2="1480.4" y2="227.23" stroke="#999" stroke-width="1"/>
<line x1="881.3000000000001" y1="315.40" x2="887.3000000000001" y2="315.40" stroke="#999" stroke-width="1"/>
<line x1="1483.4" y1="315.40" x2="1477.4" y2="315.40" stroke="#999" stroke-width="1"/>
<line x1="881.3000000000001" y1="379.98" x2="884.3000000000001" y2="379.98" stroke="#999" stroke-width="1"/>
<line x1="1483.4" y1="379.98" x2="1480.4" y2="379.98" stroke="#999" stroke-width="1"/>
<line x1="881.3000000000001" y1="363.71" x2="884.3000000000001" y2="363.71" stroke="#999" stroke-width="1"/>
<line x1="1483.4" y1="363.71" x2="1480.4" y2="363.71" stroke="#999" stroke-width="1"/>
<line x1="881.3000000000001" y1="352.17" x2="884.3000000000001" y2="352.17" stroke="#999" stroke-width="1"/>
<line x1="1483.4" y1="352.17" x2="1480.4" y2="352.17" stroke="#999" stroke-width="1"/>
<line x1="881.3000000000001" y1="343.22" x2="884.3000000000001" y2="343.22" stroke="#999" stroke-width="1"/>
<line x1="1483.4" y1="343.22" x2="1480.4" y2="343.22" stroke="#999" stroke-width="1"/>
<line x1="881.3000000000001" y1="335.90" x2="884.3000000000001" y2="335.90" stroke="#999" stroke-width="1"/>
<line x1="1483.4" y1="335.90" x2="1480.4" y2="335.90" stroke="#999" stroke-width="1"/>
<line x1="881.3000000000001" y1="329.71" x2="884.3000000000001" y2="329.71" stroke="#999" stroke-width="1"/>
<line x1="1483.4" y1="329.71" x2="1480.4" y2="329.71" stroke="#999" stroke-width="1"/>
<line x1="881.3000000000001" y1="324.35" x2="884.3000000000001" y2="324.35" stroke="#999" stroke-width="1"/>
<line x1="1483.4" y1="324.35" x2="1480.4" y2="324.35" stroke="#999" stroke-width="1"/>
<line x1="881.3000000000001" y1="319.63" x2="884.3000000000001" y2="319.63" stroke="#999" stroke-width="1"/>
<line x1="1483.4" y1="319.63" x2="1480.4" y2="319.63" stroke="#999" stroke-width="1"/>
<line x1="881.3000000000001" y1="407.80" x2="887.3000000000001" y2="407.80" stroke="#999" stroke-width="1"/>
<line x1="1483.4" y1="407.80" x2="1477.4" y2="407.80" stroke="#999" stroke-width="1"/>
<line x1="881.3000000000001" y1="472.38" x2="884.3000000000001" y2="472.38" stroke="#999" stroke-width="1"/>
<line x1="1483.4" y1="472.38" x2="1480.4" y2="472.38" stroke="#999" stroke-width="1"/>
<line x1="881.3000000000001" y1="456.11" x2="884.3000000000001" y2="456.11" stroke="#999" stroke-width="1"/>
<line x1="1483.4" y1="456.11" x2="1480.4" y2="456.11" stroke="#999" stroke-width="1"/>
<line x1="881.3000000000001" y1="444.57" x2="884.3000000000001" y2="444.57" stroke="#999" stroke-width="1"/>
<line x1="1483.4" y1="444.57" x2="1480.4" y2="444.57" stroke="#999" stroke-width="1"/>
<line x1="881.3000000000001" y1="435.62" x2="884.3000000000001" y2="435.62" stroke="#999" stroke-width="1"/>
<line x1="1483.4" y1="435.62" x2="1480.4" y2="435.62" stroke="#999" stroke-width="1"/>
<line x1="881.3000000000001" y1="428.30" x2="884.3000000000001" y2="428.30" stroke="#999" stroke-width="1"/>
<line x1="1483.4" y1="428.30" x2="1480.4" y2="428.30" stroke="#999" stroke-width="1"/>
<line x1="881.3000000000001" y1="422.11" x2="884.3000000000001" y2="422.11" stroke="#999" stroke-width="1"/>
<line x1="1483.4" y1="422.11" x2="1480.4" y2="422.11" stroke="#999" stroke-width="1"/>
<line x1="881.3000000000001" y1="416.75" x2="884.3000000000001" y2="416.75" stroke="#999" stroke-width="1"/>
<line x1="1483.4" y1="416.75" x2="1480.4" y2="416.75" stroke="#999" stroke-width="1"/>
<line x1="881.3000000000001" y1="412.03" x2="884.3000000000001" y2="412.03" stroke="#999" stroke-width="1"/>
<line x1="1483.4" y1="412.03" x2="1480.4" y2="412.03" stroke="#999" stroke-width="1"/>
<line x1="881.3000000000001" y1="500.20" x2="887.3000000000001" y2="500.20" stroke="#999" stroke-width="1"/>
<line x1="1483.4" y1="500.20" x2="1477.4" y2="500.20" stroke="#999" stroke-width="1"/>
<polyline points="881.30,85.30 893.34,116.00 905.38,127.30 917.43,143.70 929.47,151.80 941.51,156.80 953.55,160.20 965.59,171.30 977.64,174.00 989.68,174.00 1001.72,174.40 1013.76,175.50 1025.80,175.50 1037.85,175.50 1049.89,175.50 1061.93,175.50 1073.97,176.10 1086.01,177.60 1098.06,179.50 1110.10,183.60 1122.14,186.10 1134.18,186.10 1146.22,186.10 1158.27,186.10 1170.31,195.90 1182.35,196.10 1194.39,196.70 1206.43,209.60 1218.48,217.20 1230.52,218.90 1242.56,220.00 1254.60,221.10 1266.64,222.00 1278.69,222.80 1290.73,222.80 1302.77,222.80 1314.81,224.20 1326.85,224.20 1338.90,224.20 1350.94,224.20 1362.98,224.30 1375.02,224.30 1387.06,224.30 1399.11,224.30 1411.15,255.00 1423.19,255.30 1435.23,255.30 1447.27,256.30 1459.32,255.90 1471.36,308.00" fill="none" stroke="#0072BD" stroke-width="2"/>
<rect x="875.00" y="79.00" width="12.6" height="12.6" fill="#D95319" stroke="#0072BD" stroke-width="1.9" stroke-linejoin="round"/>
<rect x="887.04" y="109.70" width="12.6" height="12.6" fill="#D95319" stroke="#0072BD" stroke-width="1.9" stroke-linejoin="round"/>
<rect x="899.08" y="121.00" width="12.6" height="12.6" fill="#D95319" stroke="#0072BD" stroke-width="1.9" stroke-linejoin="round"/>
<rect x="911.13" y="137.40" width="12.6" height="12.6" fill="#D95319" stroke="#0072BD" stroke-width="1.9" stroke-linejoin="round"/>
<rect x="923.17" y="145.50" width="12.6" height="12.6" fill="#D95319" stroke="#0072BD" stroke-width="1.9" stroke-linejoin="round"/>
<rect x="935.21" y="150.50" width="12.6" height="12.6" fill="#D95319" stroke="#0072BD" stroke-width="1.9" stroke-linejoin="round"/>
<rect x="947.25" y="153.90" width="12.6" height="12.6" fill="#D95319" stroke="#0072BD" stroke-width="1.9" stroke-linejoin="round"/>
<rect x="959.29" y="165.00" width="12.6" height="12.6" fill="#D95319" stroke="#0072BD" stroke-width="1.9" stroke-linejoin="round"/>
<rect x="971.34" y="167.70" width="12.6" height="12.6" fill="#D95319" stroke="#0072BD" stroke-width="1.9" stroke-linejoin="round"/>
<rect x="983.38" y="167.70" width="12.6" height="12.6" fill="#D95319" stroke="#0072BD" stroke-width="1.9" stroke-linejoin="round"/>
<rect x="995.42" y="168.10" width="12.6" height="12.6" fill="#D95319" stroke="#0072BD" stroke-width="1.9" stroke-linejoin="round"/>
<rect x="1007.46" y="169.20" width="12.6" height="12.6" fill="#D95319" stroke="#0072BD" stroke-width="1.9" stroke-linejoin="round"/>
<rect x="1019.50" y="169.20" width="12.6" height="12.6" fill="#D95319" stroke="#0072BD" stroke-width="1.9" stroke-linejoin="round"/>
<rect x="1031.55" y="169.20" width="12.6" height="12.6" fill="#D95319" stroke="#0072BD" stroke-width="1.9" stroke-linejoin="round"/>
<rect x="1043.59" y="169.20" width="12.6" height="12.6" fill="#D95319" stroke="#0072BD" stroke-width="1.9" stroke-linejoin="round"/>
<rect x="1055.63" y="169.20" width="12.6" height="12.6" fill="#D95319" stroke="#0072BD" stroke-width="1.9" stroke-linejoin="round"/>
<rect x="1067.67" y="169.80" width="12.6" height="12.6" fill="#D95319" stroke="#0072BD" stroke-width="1.9" stroke-linejoin="round"/>
<rect x="1079.71" y="171.30" width="12.6" height="12.6" fill="#D95319" stroke="#0072BD" stroke-width="1.9" stroke-linejoin="round"/>
<rect x="1091.76" y="173.20" width="12.6" height="12.6" fill="#D95319" stroke="#0072BD" stroke-width="1.9" stroke-linejoin="round"/>
<rect x="1103.80" y="177.30" width="12.6" height="12.6" fill="#D95319" stroke="#0072BD" stroke-width="1.9" stroke-linejoin="round"/>
<rect x="1115.84" y="179.80" width="12.6" height="12.6" fill="#D95319" stroke="#0072BD" stroke-width="1.9" stroke-linejoin="round"/>
<rect x="1127.88" y="179.80" width="12.6" height="12.6" fill="#D95319" stroke="#0072BD" stroke-width="1.9" stroke-linejoin="round"/>
<rect x="1139.92" y="179.80" width="12.6" height="12.6" fill="#D95319" stroke="#0072BD" stroke-width="1.9" stroke-linejoin="round"/>
<rect x="1151.97" y="179.80" width="12.6" height="12.6" fill="#D95319" stroke="#0072BD" stroke-width="1.9" stroke-linejoin="round"/>
<rect x="1164.01" y="189.60" width="12.6" height="12.6" fill="#D95319" stroke="#0072BD" stroke-width="1.9" stroke-linejoin="round"/>
<rect x="1176.05" y="189.80" width="12.6" height="12.6" fill="#D95319" stroke="#0072BD" stroke-width="1.9" stroke-linejoin="round"/>
<rect x="1188.09" y="190.40" width="12.6" height="12.6" fill="#D95319" stroke="#0072BD" stroke-width="1.9" stroke-linejoin="round"/>
<rect x="1200.13" y="203.30" width="12.6" height="12.6" fill="#D95319" stroke="#0072BD" stroke-width="1.9" stroke-linejoin="round"/>
<rect x="1212.18" y="210.90" width="12.6" height="12.6" fill="#D95319" stroke="#0072BD" stroke-width="1.9" stroke-linejoin="round"/>
<rect x="1224.22" y="212.60" width="12.6" height="12.6" fill="#D95319" stroke="#0072BD" stroke-width="1.9" stroke-linejoin="round"/>
<rect x="1236.26" y="213.70" width="12.6" height="12.6" fill="#D95319" stroke="#0072BD" stroke-width="1.9" stroke-linejoin="round"/>
<rect x="1248.30" y="214.80" width="12.6" height="12.6" fill="#D95319" stroke="#0072BD" stroke-width="1.9" stroke-linejoin="round"/>
<rect x="1260.34" y="215.70" width="12.6" height="12.6" fill="#D95319" stroke="#0072BD" stroke-width="1.9" stroke-linejoin="round"/>
<rect x="1272.39" y="216.50" width="12.6" height="12.6" fill="#D95319" stroke="#0072BD" stroke-width="1.9" stroke-linejoin="round"/>
<rect x="1284.43" y="216.50" width="12.6" height="12.6" fill="#D95319" stroke="#0072BD" stroke-width="1.9" stroke-linejoin="round"/>
<rect x="1296.47" y="216.50" width="12.6" height="12.6" fill="#D95319" stroke="#0072BD" stroke-width="1.9" stroke-linejoin="round"/>
<rect x="1308.51" y="217.90" width="12.6" height="12.6" fill="#D95319" stroke="#0072BD" stroke-width="1.9" stroke-linejoin="round"/>
<rect x="1320.55" y="217.90" width="12.6" height="12.6" fill="#D95319" stroke="#0072BD" stroke-width="1.9" stroke-linejoin="round"/>
<rect x="1332.60" y="217.90" width="12.6" height="12.6" fill="#D95319" stroke="#0072BD" stroke-width="1.9" stroke-linejoin="round"/>
<rect x="1344.64" y="217.90" width="12.6" height="12.6" fill="#D95319" stroke="#0072BD" stroke-width="1.9" stroke-linejoin="round"/>
<rect x="1356.68" y="218.00" width="12.6" height="12.6" fill="#D95319" stroke="#0072BD" stroke-width="1.9" stroke-linejoin="round"/>
<rect x="1368.72" y="218.00" width="12.6" height="12.6" fill="#D95319" stroke="#0072BD" stroke-width="1.9" stroke-linejoin="round"/>
<rect x="1380.76" y="218.00" width="12.6" height="12.6" fill="#D95319" stroke="#0072BD" stroke-width="1.9" stroke-linejoin="round"/>
<rect x="1392.81" y="218.00" width="12.6" height="12.6" fill="#D95319" stroke="#0072BD" stroke-width="1.9" stroke-linejoin="round"/>
<rect x="1404.85" y="248.70" width="12.6" height="12.6" fill="#D95319" stroke="#0072BD" stroke-width="1.9" stroke-linejoin="round"/>
<rect x="1416.89" y="249.00" width="12.6" height="12.6" fill="#D95319" stroke="#0072BD" stroke-width="1.9" stroke-linejoin="round"/>
<rect x="1428.93" y="249.00" width="12.6" height="12.6" fill="#D95319" stroke="#0072BD" stroke-width="1.9" stroke-linejoin="round"/>
<rect x="1440.97" y="250.00" width="12.6" height="12.6" fill="#D95319" stroke="#0072BD" stroke-width="1.9" stroke-linejoin="round"/>
<rect x="1453.02" y="249.60" width="12.6" height="12.6" fill="#D95319" stroke="#0072BD" stroke-width="1.9" stroke-linejoin="round"/>
<rect x="1465.06" y="301.70" width="12.6" height="12.6" fill="#D95319" stroke="#0072BD" stroke-width="1.9" stroke-linejoin="round"/>
<path d="M1462.5,308.5 L1494.5,289.5 L1494.5,327.5 Z" fill="#D95319" stroke="#0072BD" stroke-width="2.8" stroke-linejoin="miter"/>
<polyline points="1182.35,217.70 1194.39,247.50 1206.43,328.20 1218.48,330.60 1230.52,332.20 1242.56,333.80 1254.60,335.70 1266.64,336.70 1278.69,337.00 1290.73,337.30 1302.77,338.00 1314.81,353.30 1326.85,356.00 1338.90,386.40 1350.94,386.40 1362.98,387.00 1375.02,387.00 1387.06,387.00 1399.11,387.00 1411.15,387.00 1423.19,387.40 1435.23,388.40 1447.27,390.30 1459.32,390.30 1471.36,417.70 1483.40,429.90" fill="none" stroke="#EDB120" stroke-width="1.8"/>
<circle cx="1182.35" cy="217.70" r="7.9" fill="#008000" stroke="#EDB120" stroke-width="1.7"/>
<circle cx="1194.39" cy="247.50" r="7.9" fill="#008000" stroke="#EDB120" stroke-width="1.7"/>
<circle cx="1206.43" cy="328.20" r="7.9" fill="#008000" stroke="#EDB120" stroke-width="1.7"/>
<circle cx="1218.48" cy="330.60" r="7.9" fill="#008000" stroke="#EDB120" stroke-width="1.7"/>
<circle cx="1230.52" cy="332.20" r="7.9" fill="#008000" stroke="#EDB120" stroke-width="1.7"/>
<circle cx="1242.56" cy="333.80" r="7.9" fill="#008000" stroke="#EDB120" stroke-width="1.7"/>
<circle cx="1254.60" cy="335.70" r="7.9" fill="#008000" stroke="#EDB120" stroke-width="1.7"/>
<circle cx="1266.64" cy="336.70" r="7.9" fill="#008000" stroke="#EDB120" stroke-width="1.7"/>
<circle cx="1278.69" cy="337.00" r="7.9" fill="#008000" stroke="#EDB120" stroke-width="1.7"/>
<circle cx="1290.73" cy="337.30" r="7.9" fill="#008000" stroke="#EDB120" stroke-width="1.7"/>
<circle cx="1302.77" cy="338.00" r="7.9" fill="#008000" stroke="#EDB120" stroke-width="1.7"/>
<circle cx="1314.81" cy="353.30" r="7.9" fill="#008000" stroke="#EDB120" stroke-width="1.7"/>
<circle cx="1326.85" cy="356.00" r="7.9" fill="#008000" stroke="#EDB120" stroke-width="1.7"/>
<circle cx="1338.90" cy="386.40" r="7.9" fill="#008000" stroke="#EDB120" stroke-width="1.7"/>
<circle cx="1350.94" cy="386.40" r="7.9" fill="#008000" stroke="#EDB120" stroke-width="1.7"/>
<circle cx="1362.98" cy="387.00" r="7.9" fill="#008000" stroke="#EDB120" stroke-width="1.7"/>
<circle cx="1375.02" cy="387.00" r="7.9" fill="#008000" stroke="#EDB120" stroke-width="1.7"/>
<circle cx="1387.06" cy="387.00" r="7.9" fill="#008000" stroke="#EDB120" stroke-width="1.7"/>
<circle cx="1399.11" cy="387.00" r="7.9" fill="#008000" stroke="#EDB120" stroke-width="1.7"/>
<circle cx="1411.15" cy="387.00" r="7.9" fill="#008000" stroke="#EDB120" stroke-width="1.7"/>
<circle cx="1423.19" cy="387.40" r="7.9" fill="#008000" stroke="#EDB120" stroke-width="1.7"/>
<circle cx="1435.23" cy="388.40" r="7.9" fill="#008000" stroke="#EDB120" stroke-width="1.7"/>
<circle cx="1447.27" cy="390.30" r="7.9" fill="#008000" stroke="#EDB120" stroke-width="1.7"/>
<circle cx="1459.32" cy="390.30" r="7.9" fill="#008000" stroke="#EDB120" stroke-width="1.7"/>
<circle cx="1471.36" cy="417.70" r="7.9" fill="#008000" stroke="#EDB120" stroke-width="1.7"/>
<circle cx="1483.40" cy="429.90" r="7.9" fill="#008000" stroke="#EDB120" stroke-width="1.7"/>
<polyline points="881.30,86.50 893.34,116.80 905.38,118.80 917.43,121.00 929.47,123.50 941.51,128.00 953.55,131.50 965.59,146.00 977.64,170.00 989.68,176.50 1001.72,178.30 1013.76,179.30 1025.80,180.30 1037.85,181.40 1049.89,184.80 1061.93,193.50 1073.97,203.00 1086.01,204.80 1098.06,206.90 1110.10,211.00 1122.14,211.40 1134.18,211.70 1146.22,212.50 1158.27,215.50 1170.31,280.50 1182.35,281.50 1194.39,282.00 1206.43,282.50 1218.48,283.30 1230.52,283.80 1242.56,284.40 1254.60,286.50 1266.64,292.30 1278.69,299.00 1290.73,302.00 1302.77,302.20 1314.81,302.50 1326.85,302.50 1338.90,302.50 1350.94,306.30 1362.98,306.30 1375.02,306.80 1387.06,352.00 1399.11,353.30 1411.15,353.90 1423.19,354.00 1435.23,354.20 1447.27,354.50 1459.32,354.80 1471.36,355.30 1483.40,356.50" fill="none" stroke="#00FF00" stroke-width="3.2" stroke-dasharray="3.2 3.3" clip-path="url(#c785)"/>
<rect x="881.3000000000001" y="315.40" width="602.10" height="184.50" fill="rgb(126,47,142)" fill-opacity="0.2"/>
<rect x="1104.20" y="39.0" width="379.20" height="108.5" fill="#fff" stroke="#bdbdbd" stroke-width="1"/>
<line x1="1107.70" y1="53.0" x2="1126.70" y2="53.0" stroke="#0072BD" stroke-width="1.6"/>
<rect x="1110.90" y="46.7" width="12.6" height="12.6" fill="#D95319" stroke="#0072BD" stroke-width="1.9" stroke-linejoin="round"/>
<line x1="1107.70" y1="80.0" x2="1126.70" y2="80.0" stroke="#0072BD" stroke-width="1.6"/>
<path d="M1104.20,80.0 L1124.70,68.0 L1124.70,92.0 Z" fill="#D95319" stroke="#0072BD" stroke-width="2.6"/>
<line x1="1107.70" y1="106.8" x2="1126.70" y2="106.8" stroke="#EDB120" stroke-width="1.6"/>
<circle cx="1117.20" cy="106.8" r="7.9" fill="#008000" stroke="#EDB120" stroke-width="1.7"/>
<line x1="1106.70" y1="133.2" x2="1126.70" y2="133.2" stroke="#00FF00" stroke-width="3.2" stroke-dasharray="3.2 3.3"/>
<text x="1130.10" y="58.6" class="sf" font-size="22.4" textLength="191.8" lengthAdjust="spacingAndGlyphs">QEB-ADAPT-VQE</text>
<text x="1130.10" y="85.2" class="sf" font-size="22.4" textLength="344.2" lengthAdjust="spacingAndGlyphs">Target for Overlap Guided ADAPT</text>
<text x="1130.10" y="112.7" class="sf" font-size="22.4" textLength="351.5" lengthAdjust="spacingAndGlyphs">Overlap Guided QEB-ADAPT-VQE</text>
<text x="1130.10" y="139.5" class="sf" font-size="22.4" textLength="296.4" lengthAdjust="spacingAndGlyphs">Full-CI Overlap-ADAPT-VQE</text>
<text x="970.70" y="24" class="sf" font-size="32" textLength="423.7" lengthAdjust="spacingAndGlyphs">BeH<tspan font-size="22" dy="5">2</tspan><tspan dy="-5"> Molecule at 3.0 Angstrom</tspan></text>
<text x="873.35" y="533.90" class="ss" font-size="28.6">0</text>
<path d="M515,0L515,1237L197,1010L197,1180L530,1409L696,1409L696,0Z" transform="translate(985.81,533.90) scale(0.01396,-0.01396)" fill="#1a1a1a"/><text x="1001.72" y="533.90" class="ss" font-size="28.6">0</text>
<text x="1106.23" y="533.90" class="ss" font-size="28.6">2</text><text x="1122.14" y="533.90" class="ss" font-size="28.6">0</text>
<text x="1226.65" y="533.90" class="ss" font-size="28.6">3</text><text x="1242.56" y="533.90" class="ss" font-size="28.6">0</text>
<text x="1347.07" y="533.90" class="ss" font-size="28.6">4</text><text x="1362.98" y="533.90" class="ss" font-size="28.6">0</text>
<text x="1467.49" y="533.90" class="ss" font-size="28.6">5</text><text x="1483.40" y="533.90" class="ss" font-size="28.6">0</text>
<path d="M515,0L515,1237L197,1010L197,1180L530,1409L696,1409L696,0Z" transform="translate(830.22,53.50) scale(0.01406,-0.01406)" fill="#1a1a1a"/><text x="846.24" y="53.50" class="ss" font-size="28.8">0</text><text x="862.25" y="40.00" class="ss" font-size="24">0</text>
<path d="M515,0L515,1237L197,1010L197,1180L530,1409L696,1409L696,0Z" transform="translate(822.23,145.90) scale(0.01406,-0.01406)" fill="#1a1a1a"/><text x="838.24" y="145.90" class="ss" font-size="28.8">0</text><text x="854.26" y="132.40" class="ss" font-size="24">-</text><path d="M515,0L515,1237L197,1010L197,1180L530,1409L696,1409L696,0Z" transform="translate(862.25,132.40) scale(0.01172,-0.01172)" fill="#1a1a1a"/>
<path d="M515,0L515,1237L197,1010L197,1180L530,1409L696,1409L696,0Z" transform="translate(822.23,238.30) scale(0.01406,-0.01406)" fill="#1a1a1a"/><text x="838.24" y="238.30" class="ss" font-size="28.8">0</text><text x="854.26" y="224.80" class="ss" font-size="24">-</text><text x="862.25" y="224.80" class="ss" font-size="24">2</text>
<path d="M515,0L515,1237L197,1010L197,1180L530,1409L696,1409L696,0Z" transform="translate(822.23,330.70) scale(0.01406,-0.01406)" fill="#1a1a1a"/><text x="838.24" y="330.70" class="ss" font-size="28.8">0</text><text x="854.26" y="317.20" class="ss" font-size="24">-</text><text x="862.25" y="317.20" class="ss" font-size="24">3</text>
<path d="M515,0L515,1237L197,1010L197,1180L530,1409L696,1409L696,0Z" transform="translate(822.23,423.10) scale(0.01406,-0.01406)" fill="#1a1a1a"/><text x="838.24" y="423.10" class="ss" font-size="28.8">0</text><text x="854.26" y="409.60" class="ss" font-size="24">-</text><text x="862.25" y="409.60" class="ss" font-size="24">4</text>
<text x="1182.35" y="566.2" class="sf" font-size="32" text-anchor="middle" textLength="150.8" lengthAdjust="spacingAndGlyphs">Parameters</text>
<text transform="translate(809.70,270.35) rotate(-90)" x="0" y="0" class="sf" font-size="31.6" text-anchor="middle" textLength="344.6" lengthAdjust="spacingAndGlyphs">Error in Energy (Hartree)</text>
<text x="379.6" y="620.2" class="tf" font-size="29" text-anchor="middle">(a)</text>
<text x="1164.5" y="620.2" class="tf" font-size="29" text-anchor="middle">(b)</text>
</svg></body></html>
